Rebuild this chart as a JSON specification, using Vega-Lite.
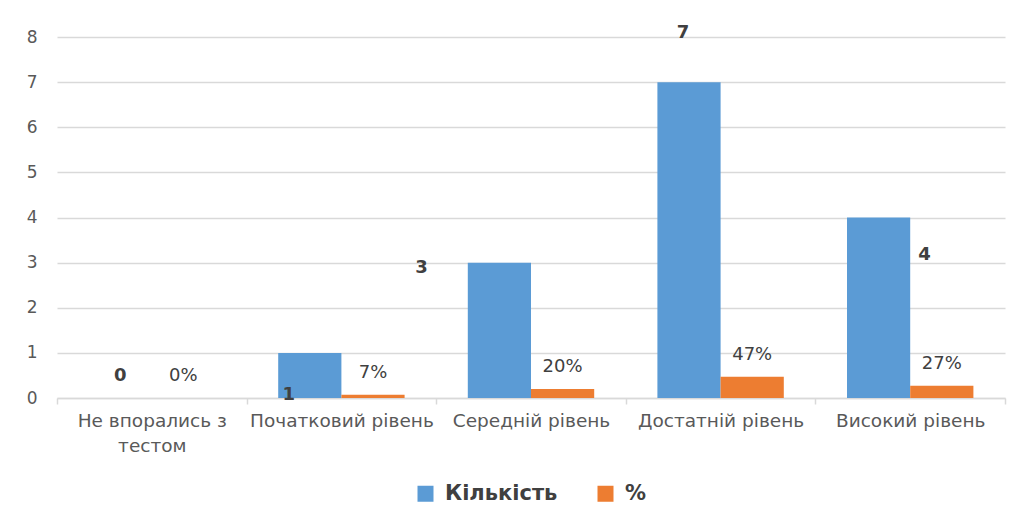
{
  "$schema": "https://vega.github.io/schema/vega-lite/v6.json",
  "width": 948,
  "height": 361,
  "autosize": "none",
  "padding": {"left": 57, "top": 37, "right": 15, "bottom": 126},
  "background": "white",
  "config": {
    "view": {"stroke": null},
    "font": "DejaVu Sans"
  },
  "data": {
    "values": [
      {"category": "Не впорались з тестом", "series": "Кількість", "value": 0, "label": "0"},
      {"category": "Початковий рівень", "series": "Кількість", "value": 1, "label": "1"},
      {"category": "Середній рівень", "series": "Кількість", "value": 3, "label": "3"},
      {"category": "Достатній рівень", "series": "Кількість", "value": 7, "label": "7"},
      {"category": "Високий рівень", "series": "Кількість", "value": 4, "label": "4"},
      {"category": "Не впорались з тестом", "series": "%", "value": 0, "label": "0%"},
      {"category": "Початковий рівень", "series": "%", "value": 0.07, "label": "7%"},
      {"category": "Середній рівень", "series": "%", "value": 0.2, "label": "20%"},
      {"category": "Достатній рівень", "series": "%", "value": 0.47, "label": "47%"},
      {"category": "Високий рівень", "series": "%", "value": 0.27, "label": "27%"}
    ]
  },
  "encoding": {
    "x": {
      "field": "category",
      "type": "nominal",
      "sort": ["Не впорались з тестом", "Початковий рівень", "Середній рівень", "Достатній рівень", "Високий рівень"],
      "scale": {"paddingInner": 0, "paddingOuter": 0},
      "axis": {
        "title": null,
        "labelAngle": 0,
        "labelFont": "DejaVu Sans",
        "labelFontSize": 18.5,
        "labelColor": "#595959",
        "labelPadding": 7,
        "labelLineHeight": 25,
        "labelLimit": 300,
        "labelOverlap": false,
        "labelExpr": "datum.label == 'Не впорались з тестом' ? ['Не впорались з', 'тестом'] : datum.label",
        "domainColor": "#d9d9d9",
        "domainWidth": 1.5,
        "tickColor": "#d9d9d9",
        "tickWidth": 1.5,
        "tickSize": 6,
        "tickBand": "extent",
        "grid": false
      }
    },
    "xOffset": {
      "field": "series",
      "type": "nominal",
      "sort": ["Кількість", "%"],
      "scale": {"paddingInner": 0, "paddingOuter": 0.5}
    },
    "y": {
      "field": "value",
      "type": "quantitative",
      "scale": {"domain": [0, 8], "nice": false},
      "axis": {
        "title": null,
        "values": [0, 1, 2, 3, 4, 5, 6, 7, 8],
        "domain": false,
        "ticks": false,
        "labelFont": "DejaVu Sans",
        "labelFontSize": 17,
        "labelColor": "#595959",
        "labelPadding": 20,
        "gridColor": "#d9d9d9",
        "gridWidth": 1.5
      }
    }
  },
  "layer": [
    {
      "mark": {"type": "bar"},
      "encoding": {
        "color": {
          "field": "series",
          "type": "nominal",
          "scale": {"domain": ["Кількість", "%"], "range": ["#5B9BD5", "#ED7D31"]},
          "legend": {
            "title": null,
            "orient": "none",
            "direction": "horizontal",
            "legendX": 358,
            "legendY": 446,
            "symbolType": "square",
            "symbolSize": 256,
            "symbolStrokeWidth": 0,
            "labelFont": "DejaVu Sans",
            "labelFontSize": 21,
            "labelFontWeight": "bold",
            "labelColor": "#404040",
            "columnPadding": 37,
            "labelOffset": 9
          }
        }
      }
    },
    {
      "transform": [{"filter": "datum.series == '%'"}],
      "mark": {"type": "text", "dy": -22, "baseline": "middle", "fontSize": 18, "color": "#404040", "font": "DejaVu Sans"},
      "encoding": {"text": {"field": "label"}}
    },
    {
      "transform": [{"filter": "datum.series == 'Кількість' && datum.label == '0'"}],
      "mark": {"type": "text", "dy": -22, "baseline": "middle", "fontSize": 18, "fontWeight": "bold", "color": "#404040", "font": "DejaVu Sans"},
      "encoding": {"text": {"field": "label"}}
    },
    {
      "transform": [{"filter": "datum.series == 'Кількість' && datum.label == '1'"}],
      "mark": {"type": "text", "dx": -21, "dy": 42, "baseline": "middle", "fontSize": 18, "fontWeight": "bold", "color": "#404040", "font": "DejaVu Sans"},
      "encoding": {"text": {"field": "label"}}
    },
    {
      "transform": [{"filter": "datum.series == 'Кількість' && datum.label == '3'"}],
      "mark": {"type": "text", "dx": -78, "dy": 5, "baseline": "middle", "fontSize": 18, "fontWeight": "bold", "color": "#404040", "font": "DejaVu Sans"},
      "encoding": {"text": {"field": "label"}}
    },
    {
      "transform": [{"filter": "datum.series == 'Кількість' && datum.label == '7'"}],
      "mark": {"type": "text", "dx": -6, "dy": -49, "baseline": "middle", "fontSize": 18, "fontWeight": "bold", "color": "#404040", "font": "DejaVu Sans"},
      "encoding": {"text": {"field": "label"}}
    },
    {
      "transform": [{"filter": "datum.series == 'Кількість' && datum.label == '4'"}],
      "mark": {"type": "text", "dx": 46, "dy": 37, "baseline": "middle", "fontSize": 18, "fontWeight": "bold", "color": "#404040", "font": "DejaVu Sans"},
      "encoding": {"text": {"field": "label"}}
    }
  ]
}
